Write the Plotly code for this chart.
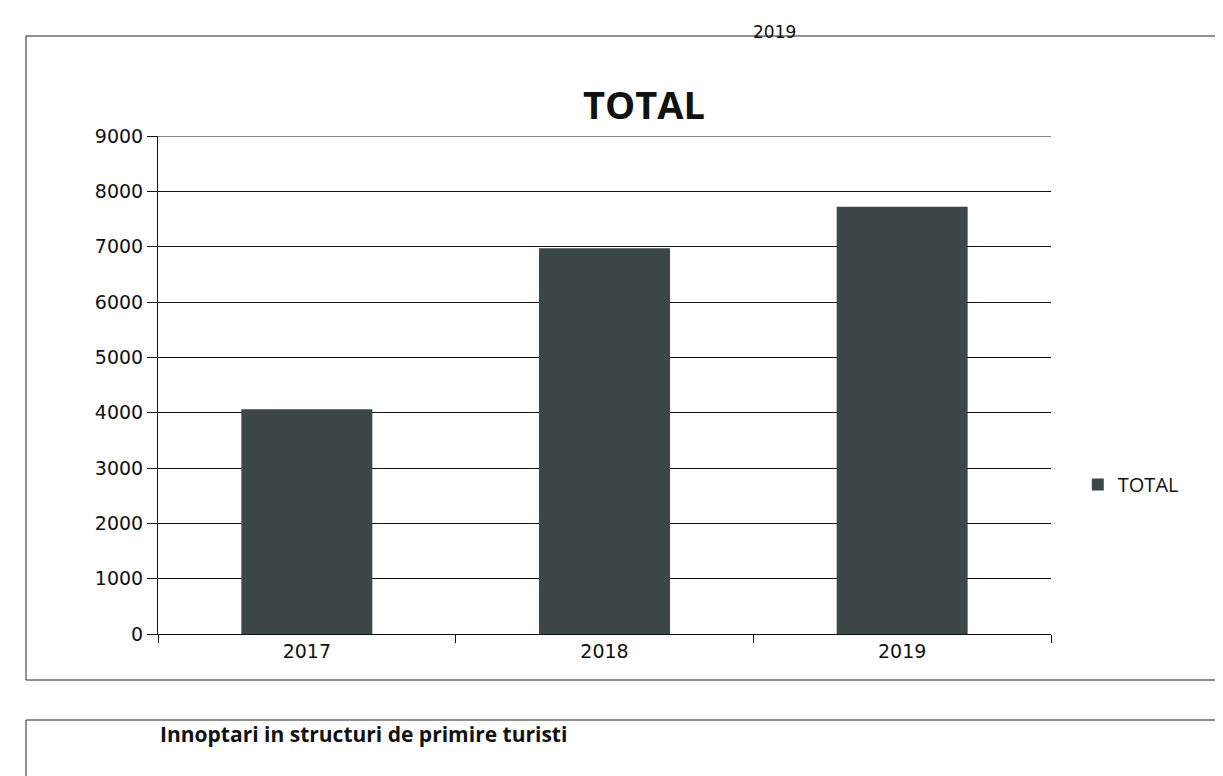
import plotly.graph_objects as go

categories = ["2017", "2018", "2019"]
values = [4060, 6970, 7720]
series_name = "TOTAL"
y_ticks = [0, 1000, 2000, 3000, 4000, 5000, 6000, 7000, 8000, 9000]

W, H = 1223, 776
L, R, T, B = 150, 180, 128, 150

fig = go.Figure()
fig.add_trace(go.Bar(
    x=categories, y=values, name=series_name,
    marker=dict(color="#3b4747", line=dict(width=0)),
    showlegend=True,
))

pw, ph = W - L - R, H - T - B

fig.update_layout(
    width=W, height=H,
    margin=dict(l=L, r=R, t=T, b=B),
    paper_bgcolor="white", plot_bgcolor="white",
    bargap=0.56,
    font=dict(family="DejaVu Sans", color="#111111", size=19),
    title=dict(text="<b>TOTAL</b>", x=0.52, xanchor="center",
               y=1 - 98 / H, yanchor="middle", yref="container",
               font=dict(family="Open Sans", size=38, color="#111111")),
    legend=dict(x=1.03, y=0.3, xanchor="left", yanchor="middle",
                font=dict(family="Open Sans", size=20, color="#111111"),
                itemwidth=30),
    xaxis=dict(showline=True, linecolor="#111111", linewidth=1,
               ticks="outside", tickson="boundaries", ticklen=8,
               tickcolor="#111111", showgrid=False,
               tickfont=dict(family="DejaVu Sans", size=19)),
    yaxis=dict(range=[0, 9000], tickvals=y_ticks, showline=True,
               linecolor="#111111", linewidth=1, ticks="outside",
               ticklen=10, tickcolor="#111111", showgrid=True,
               gridcolor="#111111", gridwidth=1, zeroline=False,
               tickfont=dict(family="DejaVu Sans", size=19)),
    shapes=[
        dict(type="line", xref="paper", yref="y", x0=0, x1=1,
             y0=y_ticks[-1], y1=y_ticks[-1], layer="below",
             line=dict(color="#111111", width=1)),
        dict(type="rect", xref="paper", yref="paper",
             x0=(18 - L) / pw, x1=(1210 - L) / pw,
             y0=1 - (672 - T) / ph, y1=1 - (28 - T) / ph,
             line=dict(color="#222222", width=1)),
        dict(type="rect", xref="paper", yref="paper",
             x0=(18 - L) / pw, x1=(1210 - L) / pw,
             y0=1 - (800 - T) / ph, y1=1 - (712 - T) / ph,
             line=dict(color="#222222", width=1)),
    ],
    annotations=[
        dict(text="2019", xref="paper", yref="paper",
             x=(790 - L) / pw, y=1 - (12 - T) / ph,
             showarrow=False, font=dict(family="DejaVu Sans", size=17)),
        dict(text="<b>Innoptari in structuri de primire turisti</b>", xref="paper", yref="paper",
             x=(150 - L) / pw, y=1 - (742 - T) / ph,
             xanchor="left", showarrow=False,
             font=dict(family="Open Sans", size=21)),
    ],
)

fig.write_html("out.html")
